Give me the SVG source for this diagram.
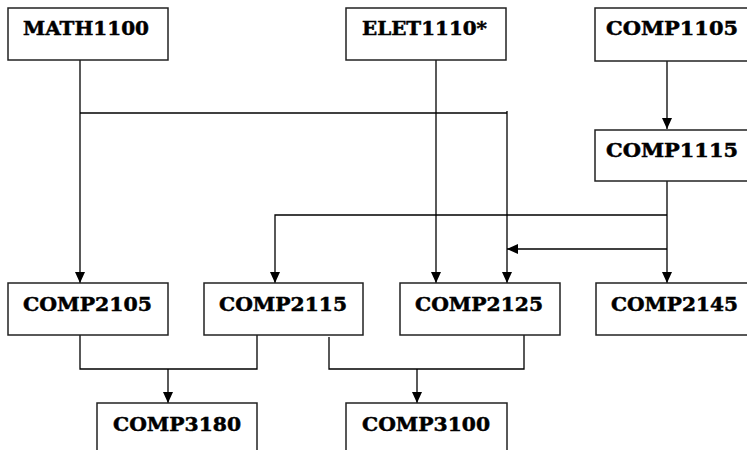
<svg xmlns="http://www.w3.org/2000/svg" width="747" height="450" viewBox="0 0 747 450">
<style>
.box{fill:#fff;stroke:#222;stroke-width:1.5}
.lbl{font-family:"DejaVu Serif","Liberation Serif",serif;font-weight:bold;font-size:19px;fill:#000;stroke:#000;stroke-width:0.5}
.ln{fill:none;stroke:#000;stroke-width:1.3}
</style>
<defs>
<marker id="ah" markerUnits="userSpaceOnUse" markerWidth="12" markerHeight="12" refX="11" refY="5" orient="auto">
<path d="M0,0 L11,5 L0,10 z" fill="#000"/>
</marker>
</defs>
<rect width="747" height="450" fill="#fff"/>
<g id="connectors">
<path class="ln" d="M80,60 V283" marker-end="url(#ah)"/>
<path class="ln" d="M80,113 H507"/>
<path class="ln" d="M507,111 V283" marker-end="url(#ah)"/>
<path class="ln" d="M436,60 V283" marker-end="url(#ah)"/>
<path class="ln" d="M667,61 V129" marker-end="url(#ah)"/>
<path class="ln" d="M667,181 V283" marker-end="url(#ah)"/>
<path class="ln" d="M667,215 H275 V283" marker-end="url(#ah)"/>
<path class="ln" d="M667,249 H507" marker-end="url(#ah)"/>
<path class="ln" d="M80,335 V369 H257 V335"/>
<path class="ln" d="M168,369 V403" marker-end="url(#ah)"/>
<path class="ln" d="M329,337 V369 H524 V335"/>
<path class="ln" d="M417,369 V403" marker-end="url(#ah)"/>
</g>
<g id="MATH1100"><rect class="box" x="8" y="8" width="160" height="52"/><text class="lbl" x="23" y="35" textLength="126" lengthAdjust="spacingAndGlyphs">MATH1100</text></g>
<g id="ELET1110"><rect class="box" x="346" y="8" width="160" height="52"/><text class="lbl" x="362" y="35" textLength="125" lengthAdjust="spacingAndGlyphs">ELET1110*</text></g>
<g id="COMP1105"><rect class="box" x="595" y="8" width="160" height="53"/><text class="lbl" x="606" y="35" textLength="132" lengthAdjust="spacingAndGlyphs">COMP1105</text></g>
<g id="COMP1115"><rect class="box" x="595" y="130" width="160" height="51"/><text class="lbl" x="606" y="157" textLength="132" lengthAdjust="spacingAndGlyphs">COMP1115</text></g>
<g id="COMP2105"><rect class="box" x="8" y="283" width="160" height="52"/><text class="lbl" x="23" y="311" textLength="129" lengthAdjust="spacingAndGlyphs">COMP2105</text></g>
<g id="COMP2115"><rect class="box" x="204" y="283" width="159" height="52"/><text class="lbl" x="219" y="311" textLength="128" lengthAdjust="spacingAndGlyphs">COMP2115</text></g>
<g id="COMP2125"><rect class="box" x="400" y="283" width="160" height="52"/><text class="lbl" x="415" y="311" textLength="128" lengthAdjust="spacingAndGlyphs">COMP2125</text></g>
<g id="COMP2145"><rect class="box" x="596" y="283" width="160" height="52"/><text class="lbl" x="611" y="311" textLength="127" lengthAdjust="spacingAndGlyphs">COMP2145</text></g>
<g id="COMP3180"><rect class="box" x="97" y="403" width="160" height="60"/><text class="lbl" x="113" y="431" textLength="128" lengthAdjust="spacingAndGlyphs">COMP3180</text></g>
<g id="COMP3100"><rect class="box" x="346" y="403" width="161" height="60"/><text class="lbl" x="362" y="431" textLength="128" lengthAdjust="spacingAndGlyphs">COMP3100</text></g>
</svg>
